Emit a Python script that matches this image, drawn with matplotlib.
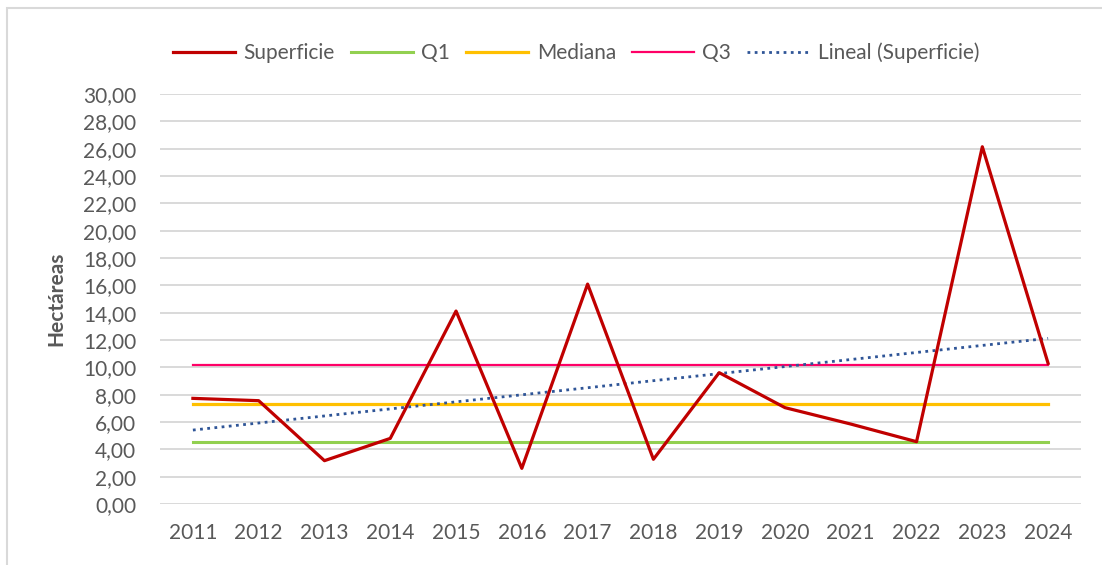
"""Superficie anual (hectáreas) con cuartiles y tendencia lineal."""

import matplotlib.pyplot as plt
from matplotlib.patches import Rectangle
from matplotlib.ticker import FuncFormatter

years = ["2011", "2012", "2013", "2014", "2015", "2016", "2017",
         "2018", "2019", "2020", "2021", "2022", "2023", "2024"]
superficie = [7.73, 7.56, 3.17, 4.80, 14.12, 2.61, 16.09,
              3.27, 9.61, 7.05, 5.85, 4.56, 26.14, 10.29]
q1 = [4.56] * len(years)
mediana = [7.32] * len(years)
q3 = [10.17] * len(years)
# trend line read at its two ends
trend = [5.41, 12.12]

TEXT = "#595959"
plt.rcParams["font.family"] = ["Lato", "DejaVu Sans"]

fig = plt.figure(figsize=(11.02, 5.65), dpi=100)
ax = fig.add_axes([160 / 1102, 1 - 504 / 565, 921 / 1102, 410 / 565])

x = list(range(len(years)))
ax.plot(x, superficie, color="#C00000", lw=2.3, label="Superficie", zorder=5)
ax.plot(x, q1, color="#92D050", lw=2.2, label="Q1", zorder=3)
ax.plot(x, mediana, color="#FFC000", lw=2.3, label="Mediana", zorder=3)
ax.plot(x, q3, color="#FF0066", lw=1.6, label="Q3", zorder=3)
ax.plot([x[0], x[-1]], trend, color="#2F5597", lw=2.0, ls=(0, (1, 1.6)),
        label="Lineal (Superficie)", zorder=4)

ax.set_xlim(-0.5, len(years) - 0.5)
ax.set_ylim(0, 30)
ax.set_yticks(range(0, 31, 2))
ax.yaxis.set_major_formatter(FuncFormatter(lambda v, _: f"{v:.2f}".replace(".", ",")))
ax.set_xticks(x)
ax.set_xticklabels(years)
ax.tick_params(axis="both", length=0, labelsize=15, labelcolor=TEXT)
ax.tick_params(axis="y", pad=17)
ax.tick_params(axis="x", pad=14)
ax.grid(axis="y", color="#D9D9D9", lw=1.4)
ax.set_axisbelow(True)
for spine in ax.spines.values():
    spine.set_visible(False)

ax.set_ylabel("Hectáreas", fontsize=15, fontweight="bold", color=TEXT, labelpad=12)

fig.legend(loc="center", bbox_to_anchor=(576 / 1102, 1 - 53 / 565), ncol=5,
           frameon=False, fontsize=15, labelcolor=TEXT, handlelength=3.0,
           handletextpad=0.4, columnspacing=0.75)

fig.patches.append(Rectangle((7 / 1102, -0.05), 1.2, 1 - 8 / 565 + 0.05,
                             transform=fig.transFigure, fill=False,
                             edgecolor="#D9D9D9", lw=1.5))

fig.savefig("out.png", dpi=100)
